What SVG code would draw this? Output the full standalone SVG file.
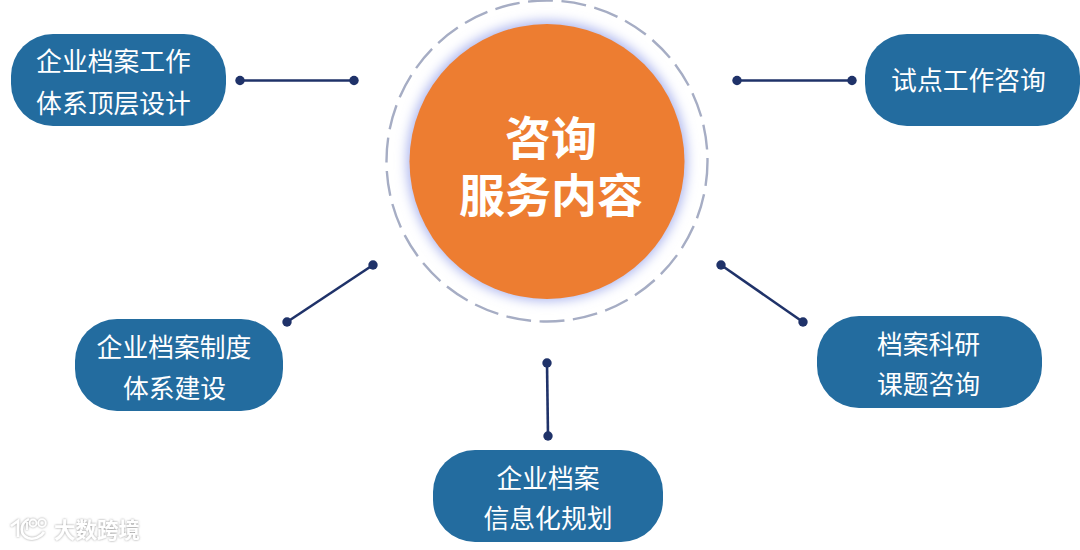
<svg xmlns="http://www.w3.org/2000/svg" width="1080" height="550" viewBox="0 0 1080 550">
<defs>
<filter id="glow" x="-15%" y="-15%" width="130%" height="130%"><feGaussianBlur stdDeviation="6"/></filter>
<filter id="wm" x="-20%" y="-20%" width="140%" height="140%"><feDropShadow dx="0" dy="0" stdDeviation="1.300" flood-color="#808080" flood-opacity="0.85"/></filter>
</defs>
<style>
.box{fill:#236c9f}
.t{font-family:"Liberation Sans","Noto Sans CJK SC",sans-serif;font-size:25.800px;fill:#fff;text-anchor:middle;font-weight:400}
.c{font-family:"Liberation Sans","Noto Sans CJK SC",sans-serif;font-size:46px;font-weight:700;fill:#fff;text-anchor:middle}
.l{stroke:#1f3269;stroke-width:2.600;fill:none}
.d{fill:#1f3269}
</style>
<rect width="1080" height="550" fill="#fff"/>
<g id="center">
<circle cx="547" cy="161" r="160.500" fill="none" stroke="#a6adc4" stroke-width="2.400" stroke-dasharray="25 8.500"/>
<circle cx="547" cy="161" r="140" fill="#aab4ee" filter="url(#glow)"/>
<circle cx="547" cy="161.500" r="137.500" fill="#ed7d31"/>
<text class="c" x="551" y="155">咨询</text>
<text class="c" x="551" y="212">服务内容</text>
</g>
<g id="connectors">
<path class="l" d="M240 80.500H354"/><circle class="d" cx="240" cy="80.500" r="4.700"/><circle class="d" cx="354" cy="80.500" r="4.700"/>
<path class="l" d="M737 80.500H852"/><circle class="d" cx="737" cy="80.500" r="4.700"/><circle class="d" cx="852" cy="80.500" r="4.700"/>
<path class="l" d="M373 265L287 322"/><circle class="d" cx="373" cy="265" r="4.700"/><circle class="d" cx="287" cy="322" r="4.700"/>
<path class="l" d="M721 265L803 322"/><circle class="d" cx="721" cy="265" r="4.700"/><circle class="d" cx="803" cy="322" r="4.700"/>
<path class="l" d="M547 363L548 436"/><circle class="d" cx="547" cy="363" r="4.700"/><circle class="d" cx="548" cy="436" r="4.700"/>
</g>
<g id="n1"><rect class="box" x="11" y="34" width="215" height="92" rx="42"/><text class="t" x="113.500" y="71">企业档案工作</text><text class="t" x="113.500" y="113">体系顶层设计</text></g>
<g id="n2"><rect class="box" x="865" y="34" width="215" height="92" rx="42"/><text class="t" x="968.500" y="90">试点工作咨询</text></g>
<g id="n3"><rect class="box" x="75" y="319" width="208" height="92" rx="42"/><text class="t" x="174" y="357">企业档案制度</text><text class="t" x="174.500" y="398">体系建设</text></g>
<g id="n4"><rect class="box" x="817" y="316" width="225" height="92" rx="42"/><text class="t" x="928.500" y="354">档案科研</text><text class="t" x="928.500" y="394">课题咨询</text></g>
<g id="n5"><rect class="box" x="433" y="450" width="230" height="92" rx="42"/><text class="t" x="548" y="488">企业档案</text><text class="t" x="548" y="528">信息化规划</text></g>
<g id="watermark" filter="url(#wm)">
<path d="M11 526L18 521V537M29 519C19 524 20 535 28 538C34 540 41 537 44 532" fill="none" stroke="#fff" stroke-width="2.500"/>
<path d="M27 522V530" stroke="#fff" stroke-width="1.800"/>
<circle cx="33" cy="523" r="3.500" fill="none" stroke="#fff" stroke-width="1.800"/><circle cx="42" cy="523" r="3.800" fill="none" stroke="#fff" stroke-width="1.800"/>
<text x="54" y="538" font-family="'Liberation Sans','Noto Sans CJK SC',sans-serif" font-size="21.500" font-weight="700" fill="#fff">大数跨境</text>
</g>
</svg>
